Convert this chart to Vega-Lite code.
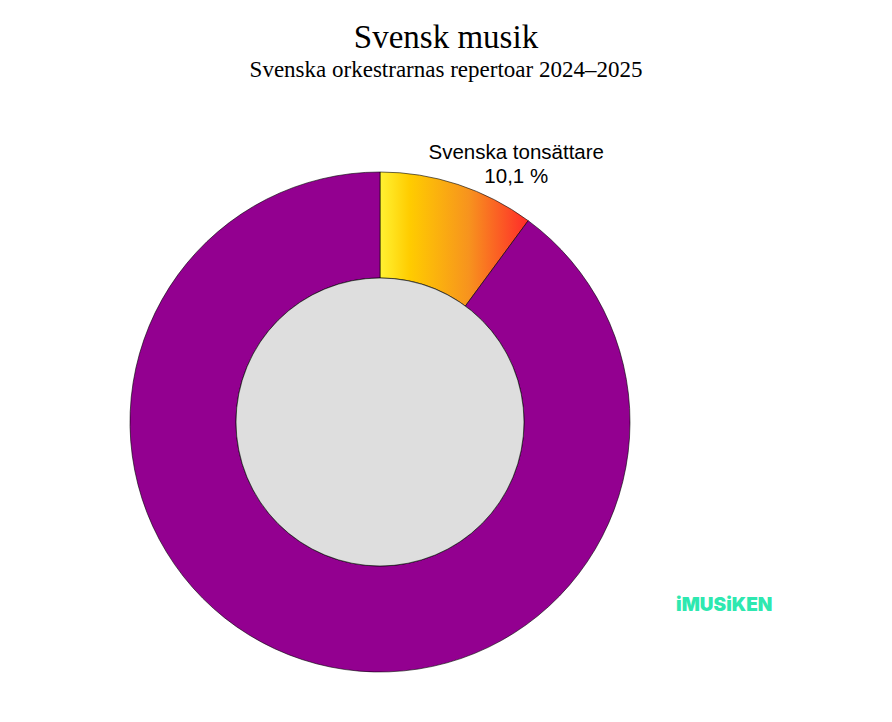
{
  "$schema": "https://vega.github.io/schema/vega-lite/v6.json",
  "width": 760,
  "height": 500,
  "padding": {"top": 22, "left": 0, "right": 132, "bottom": 0},
  "background": "white",
  "config": {"view": {"stroke": null}},
  "title": {
    "text": "Svensk musik",
    "subtitle": "Svenska orkestrarnas repertoar 2024–2025",
    "anchor": "middle",
    "dx": 66,
    "font": "Liberation Serif",
    "fontSize": 33,
    "fontWeight": "normal",
    "color": "#000000",
    "subtitleFont": "Liberation Serif",
    "subtitleFontSize": 23,
    "subtitleColor": "#000000",
    "subtitlePadding": 4,
    "offset": 61
  },
  "layer": [
    {
      "data": {"values": [
        {"cat": "Svenska tonsättare", "pct": 10.1, "ord": 1, "label": "Svenska tonsättare\n10,1 %"},
        {"cat": "Övriga", "pct": 89.9, "ord": 2, "label": ""}
      ]},
      "layer": [
        {
          "mark": {"type": "arc", "outerRadius": 250, "innerRadius": 144, "stroke": "#000000", "strokeWidth": 0.6},
          "encoding": {
            "theta": {"field": "pct", "type": "quantitative", "stack": true},
            "order": {"field": "ord", "type": "quantitative"},
            "fill": {
              "condition": {
                "test": "datum.cat === 'Svenska tonsättare'",
                "value": {
                  "gradient": "linear", "x1": 0, "y1": 0, "x2": 1, "y2": 0,
                  "stops": [
                    {"offset": 0, "color": "#fff233"},
                    {"offset": 0.2, "color": "#ffcc00"},
                    {"offset": 0.6, "color": "#f7931e"},
                    {"offset": 1, "color": "#ff2a2a"}
                  ]
                }
              },
              "value": "#930090"
            }
          }
        },
        {
          "mark": {"type": "text", "radius": 270, "dx": 52, "dy": -12, "font": "Liberation Sans", "fontSize": 20.5, "lineBreak": "\n", "lineHeight": 24, "align": "center", "baseline": "middle", "color": "#000000"},
          "encoding": {
            "theta": {"field": "pct", "type": "quantitative", "stack": true},
            "order": {"field": "ord", "type": "quantitative"},
            "text": {"field": "label"}
          }
        }
      ]
    },
    {
      "data": {"values": [{"part": "inner", "v": 1}]},
      "mark": {"type": "arc", "outerRadius": 144, "innerRadius": 0, "fill": "#dedede", "stroke": "#000000", "strokeWidth": 0.6},
      "encoding": {
        "theta": {"field": "v", "type": "quantitative", "scale": {"domain": [0, 1]}}
      }
    },
    {
      "data": {"values": [{"logo": "iMUSiKEN"}]},
      "mark": {"type": "text", "theta": 2.06, "radius": 390, "font": "Inter", "fontWeight": 900, "fontSize": 19, "color": "#2ee8b0", "align": "center", "baseline": "middle"},
      "encoding": {"text": {"field": "logo"}}
    }
  ],
  "resolve": {"scale": {"theta": "independent"}}
}
